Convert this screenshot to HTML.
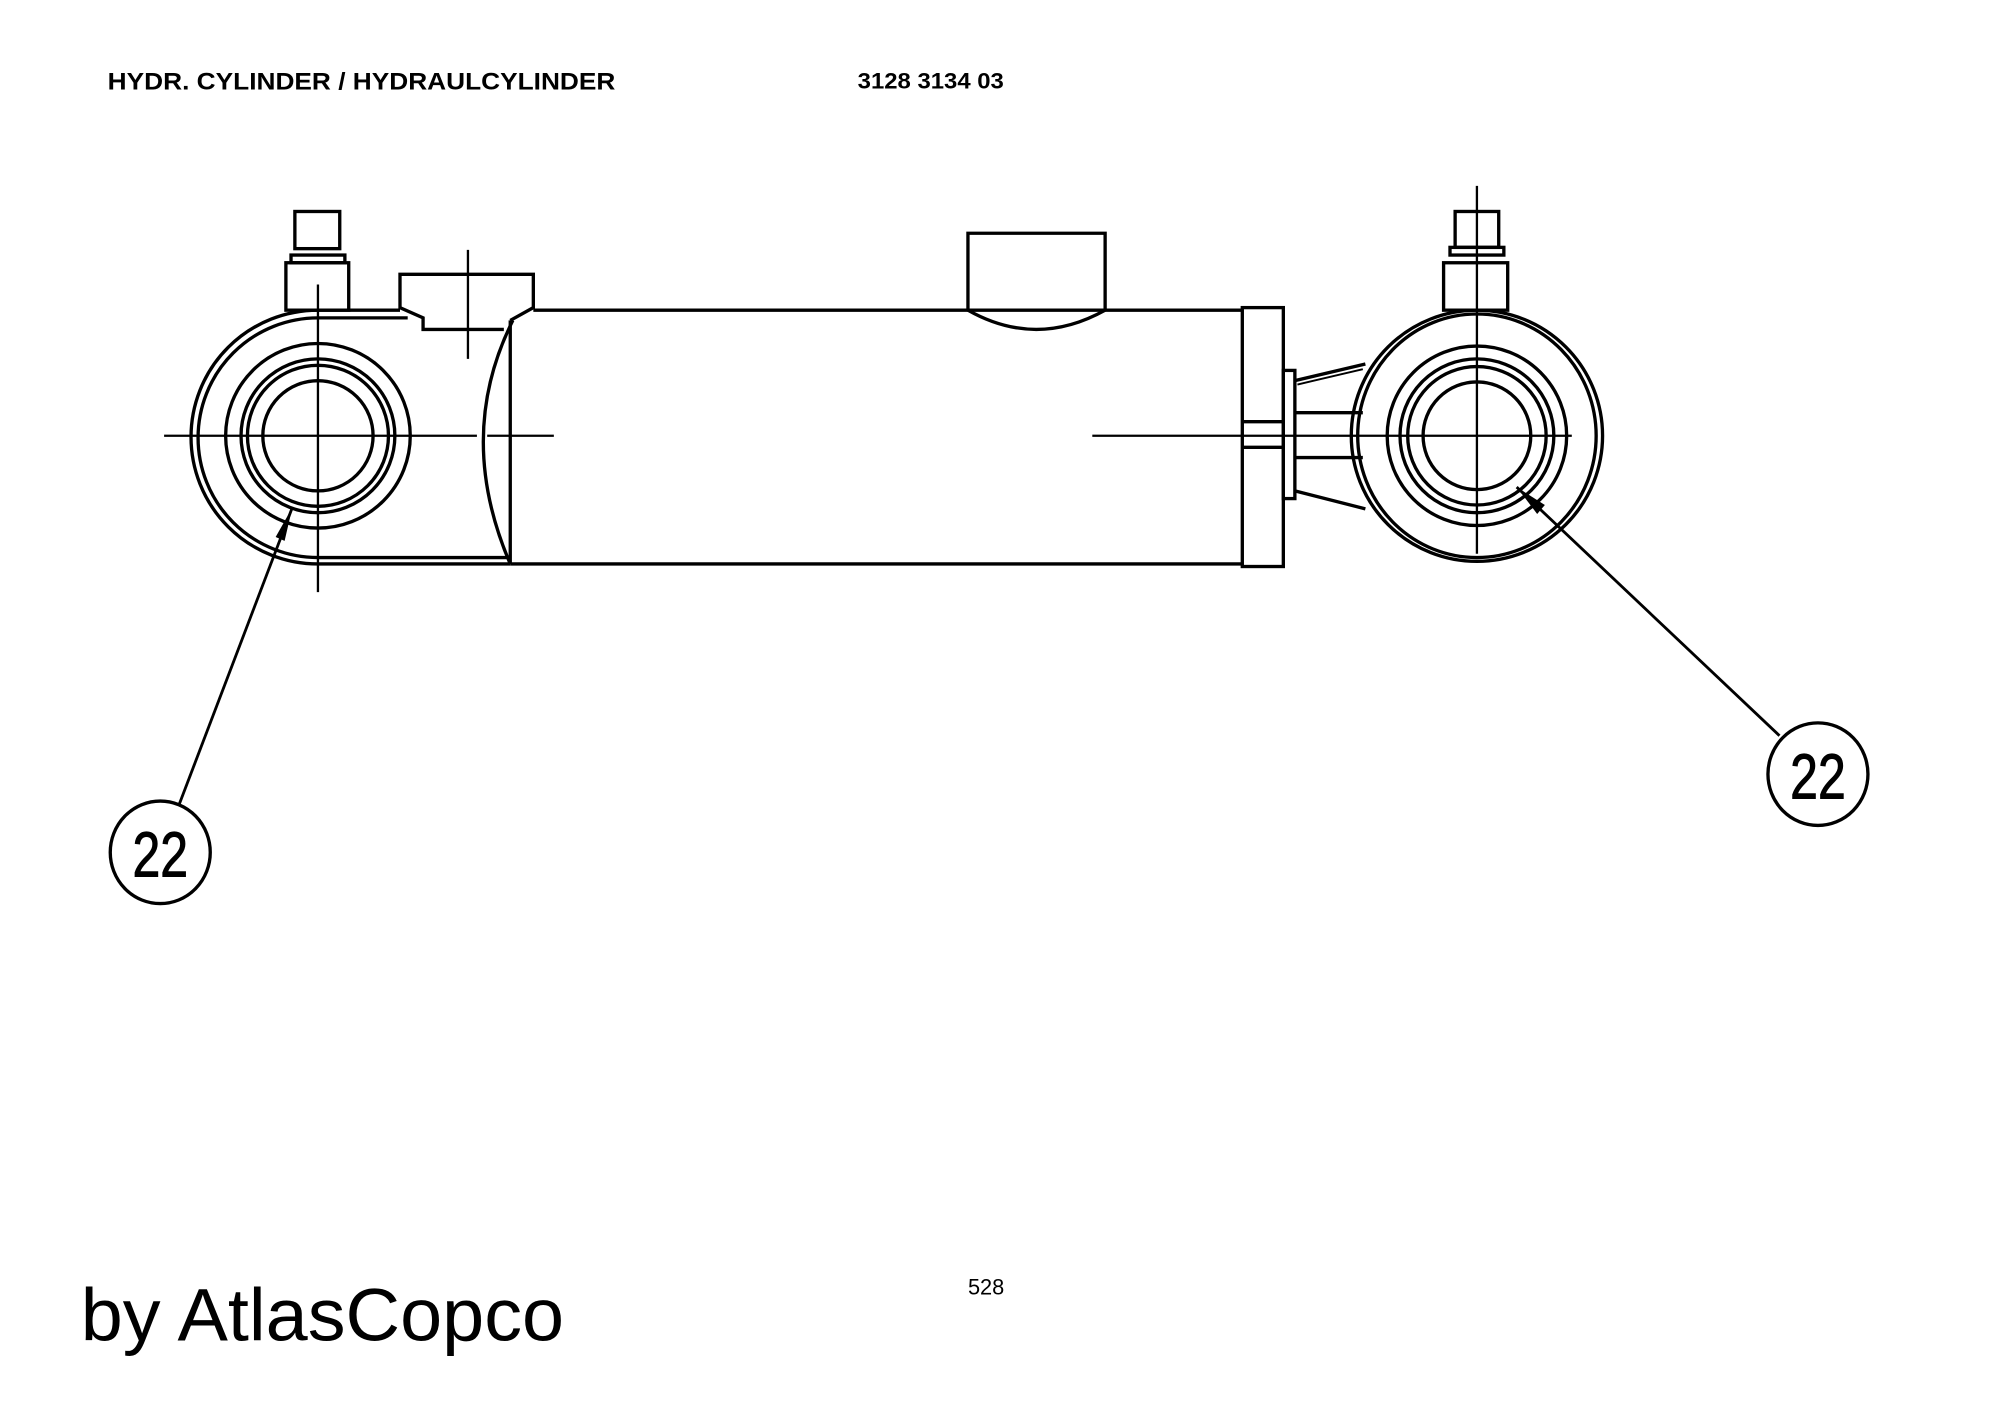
<!DOCTYPE html>
<html><head><meta charset="utf-8"><style>
html,body{margin:0;padding:0;background:#fff;}
svg{display:block;}
</style></head><body>
<svg width="2000" height="1415" viewBox="0 0 1560 1104" preserveAspectRatio="none" xmlns="http://www.w3.org/2000/svg">
<rect width="1560" height="1104" fill="#fff"/>
<g font-family="Liberation Sans, sans-serif" fill="#000">
<text x="84" y="70" font-size="19" font-weight="bold" textLength="396" lengthAdjust="spacingAndGlyphs">HYDR. CYLINDER / HYDRAULCYLINDER</text>
<text x="669" y="69" font-size="17" font-weight="bold" textLength="114" lengthAdjust="spacingAndGlyphs">3128 3134 03</text>
<text x="755" y="1010" font-size="17">528</text>
<text x="63" y="1046" font-size="58" textLength="377" lengthAdjust="spacingAndGlyphs">by AtlasCopco</text>
</g>
<g fill="none" stroke="#000" stroke-width="2.6">
<rect x="230" y="165" width="35" height="29"/>
<rect x="227" y="199" width="42" height="6"/>
<rect x="223" y="205" width="49" height="37"/>
<path d="M312,242 L248,242 A98,98 0 0 0 248,440 L398,440"/>
<path d="M318,248 L248,248 A93,93 0 0 0 248,435 L396,435"/>
<circle cx="248" cy="340" r="72"/>
<circle cx="248" cy="340" r="60"/>
<circle cx="248" cy="340" r="55"/>
<circle cx="248" cy="340" r="43"/>
<path d="M398,250 L416,240 L416,214 L312,214 L312,240 L330,248 L330,257 L393,257"/>
<path d="M400,250 Q355,340 398,440"/>
<line x1="398" y1="250" x2="398" y2="440"/>
<line x1="416" y1="242" x2="969" y2="242"/>
<line x1="398" y1="440" x2="969" y2="440"/>
<path d="M755,242 L755,182 L862,182 L862,242"/>
<path d="M755,242 Q808,272 862,242"/>
<rect x="969" y="240" width="32" height="202"/>
<line x1="969" y1="329" x2="1001" y2="329"/>
<line x1="969" y1="349" x2="1001" y2="349"/>
<rect x="1001" y="289" width="9" height="100"/>
<line x1="1010" y1="322" x2="1063" y2="322"/>
<line x1="1010" y1="357" x2="1063" y2="357"/>
<line x1="1010" y1="297" x2="1065" y2="284"/>
<line x1="1010" y1="383" x2="1065" y2="397"/>
<line x1="1012" y1="300" x2="1063" y2="288" stroke-width="1.5"/>
<rect x="1135" y="165" width="34" height="28"/>
<rect x="1131" y="193" width="42" height="6"/>
<rect x="1126" y="205" width="50" height="37"/>
<circle cx="1152" cy="340" r="98"/>
<ellipse cx="1152" cy="340" rx="93" ry="95"/>
<circle cx="1152" cy="340" r="70"/>
<circle cx="1152" cy="340" r="60"/>
<circle cx="1152" cy="340" r="54"/>
<circle cx="1152" cy="340" r="42"/>
<ellipse cx="125" cy="665" rx="39" ry="40"/>
<ellipse cx="1418" cy="604" rx="39" ry="40"/>
</g>
<g stroke="#000" stroke-width="1.8">
<line x1="248" y1="222" x2="248" y2="462"/>
<line x1="128" y1="340" x2="372" y2="340"/>
<line x1="380" y1="340" x2="432" y2="340"/>
<line x1="365" y1="195" x2="365" y2="280"/>
<line x1="852" y1="340" x2="1226" y2="340"/>
<line x1="1152" y1="145" x2="1152" y2="432"/>
<line x1="228" y1="396" x2="140" y2="627" stroke-width="2.2"/>
<line x1="1183" y1="380" x2="1388" y2="574" stroke-width="2.2"/>
</g>
<polygon points="228,396 222,422 215,419" fill="#000"/>
<polygon points="1183,380 1205,394 1199,401" fill="#000"/>
<g font-family="Liberation Sans, sans-serif" font-size="50" fill="#000" stroke="#000" stroke-width="0.8">
<text transform="translate(125,684) scale(0.78,1)" text-anchor="middle">22</text>
<text transform="translate(1418,623) scale(0.78,1)" text-anchor="middle">22</text>
</g>
</svg>
</body></html>
